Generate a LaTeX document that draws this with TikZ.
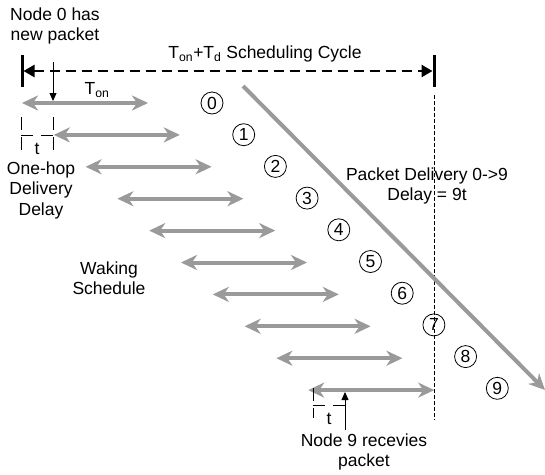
\documentclass[tikz,border=0pt]{standalone}
\usepackage{fontspec}
\setmainfont{Liberation Sans}
\usetikzlibrary{arrows.meta}
\definecolor{sched}{HTML}{9A9A9A}
\begin{document}
\begin{tikzpicture}[x=1pt,y=-1pt,
  font=\fontsize{17.5}{20.5}\selectfont,
  wake/.style={draw=sched, line width=4pt, {Stealth[length=16pt,width=15pt,inset=5pt]}-{Stealth[length=16pt,width=15pt,inset=5pt]}},
  diag/.style={draw=sched, line width=4pt, -{Stealth[length=16pt,width=15pt,inset=5pt]}},
  num/.style={circle, draw, line width=0.8pt, minimum size=22pt, inner sep=0pt},
  lbl/.style={align=center, inner sep=0pt},
  cycle/.style={line width=2.5pt, dash pattern=on 10pt off 6pt, {Triangle[length=11pt,width=12pt]}-{Triangle[length=11pt,width=12pt]}},
  bar/.style={line width=3pt},
  tick/.style={line width=1pt, dash pattern=on 13pt off 7pt},
  hdash/.style={line width=1pt, dash pattern=on 12pt off 8pt},
  pointer/.style={line width=0.8pt, -{Triangle[length=8pt,width=7pt]}},
  guide/.style={line width=0.8pt, dash pattern=on 4pt off 2pt}]
\useasboundingbox (0,0) rectangle (545,474);

% waking schedule rows and node numbers
\foreach \i in {0,...,9} {
  \coordinate (L\i) at ({22+31.8*\i},{103+31.9*\i});
  \coordinate (R\i) at ({148+31.8*\i},{103+31.9*\i});
  \draw[wake] (L\i) -- (R\i);
  \node[num] (c\i) at ({212+31.7*\i},{103+31.7*\i}) {\i};
}

% scheduling cycle
\coordinate (barLt) at (22,55);
\coordinate (barLb) at (22,87);
\coordinate (barRt) at (434,55);
\coordinate (barRb) at (434,87);
\draw[bar] (barLt) -- (barLb);
\draw[bar] (barRt) -- (barRb);
\coordinate (cycL) at (23.5,71);
\coordinate (cycR) at (432.5,71);
\draw[cycle] (cycL) -- (cycR);
\node[lbl] (title) at (265,54) {T\textsubscript{on}+T\textsubscript{d} Scheduling Cycle};

% end of cycle guide
\coordinate (gT) at (434,95);
\coordinate (gB) at (434,420);
\draw[guide] (gT) -- (gB);

% delivery diagonal
\coordinate (dS) at (243,86);
\coordinate (dE) at (545,390);
\draw[diag] (dS) -- (dE);

% labels
\node[lbl] (node0) at (55,26) {Node 0 has\\new packet};
\coordinate (p0s) at (53,62);
\coordinate (p0e) at (53,101);
\draw[pointer] (p0s) -- (p0e);
\node[lbl] (ton) at (97,90) {T\textsubscript{on}};

\coordinate (t1a) at (21,117);
\coordinate (t1b) at (21,150);
\coordinate (t1c) at (53,117);
\coordinate (t1d) at (53,150);
\coordinate (h1a) at (21,135);
\coordinate (h1b) at (53,135);
\draw[tick] (t1a) -- (t1b);
\draw[tick] (t1c) -- (t1d);
\draw[hdash] (h1a) -- (h1b);
\node[lbl] (t1) at (37,149) {t};

\node[lbl] (onehop) at (41,190) {One-hop\\Delivery\\Delay};
\node[lbl] (waking) at (109,278) {Waking\\Schedule};
\node[lbl] (pdel) at (427,186) {Packet Delivery 0->9\\Delay = 9t};

\coordinate (t2a) at (313,388);
\coordinate (t2b) at (313,418);
\coordinate (h2a) at (313,405);
\coordinate (h2b) at (345,405);
\draw[tick] (t2a) -- (t2b);
\draw[hdash] (h2a) -- (h2b);
\node[lbl] (t2) at (329,419) {t};
\coordinate (p9s) at (345,430);
\coordinate (p9e) at (345,392);
\draw[pointer] (p9s) -- (p9e);
\node[lbl] (node9) at (364,452) {Node 9 recevies\\packet};
\end{tikzpicture}
\end{document}
